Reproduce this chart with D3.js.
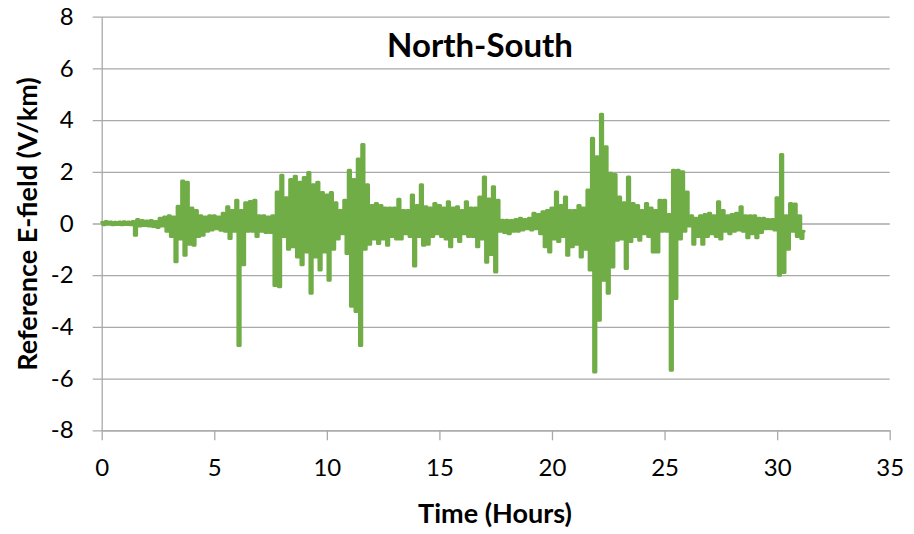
<!DOCTYPE html>
<html>
<head>
<meta charset="utf-8">
<script src="https://cdn.jsdelivr.net/npm/d3@7"></script>
<style>
  body { margin: 0; background: #fff; }
  svg { display: block; }
  text { font-family: Lato, "Open Sans", sans-serif; fill: #000; }
</style>
</head>
<body>
<svg id="chart" width="914" height="534"></svg>
<script>
// North-South reference E-field, sampled every 0.1 h (one row per hour)
const sampleStepHours = 0.1;
const efieldNS = [
  0.05,-0.05,0.08,-0.03,0.06,-0.05,0.05,-0.04,0.06,-0.05,
  0.07,-0.04,0.06,-0.05,0.08,-0.45,0.15,-0.1,0.12,-0.08,
  0.1,-0.1,0.12,-0.12,0.08,-0.15,0.2,-0.1,0.25,-0.3,
  0.3,-0.5,0.25,-1.48,0.67,-0.6,1.64,-1.23,1.6,-0.8,
  0.6,-0.84,0.5,-0.5,0.3,-0.45,0.25,-0.3,0.3,-0.25,
  0.3,-0.2,0.25,-0.26,0.4,-0.3,0.65,-0.58,0.5,-0.3,
  0.9,-4.72,0.5,-1.6,0.8,-0.3,0.85,-0.3,0.9,-0.5,
  0.3,-0.3,0.3,-0.35,0.25,-0.35,0.3,-2.4,1.22,-2.45,
  1.87,-0.5,1.0,-1.0,1.7,-0.9,1.83,-1.3,1.6,-1.6,
  1.78,-1.1,1.97,-2.7,1.5,-1.3,1.6,-1.8,1.2,-1.1,
  1.1,-2.2,1.2,-1.0,0.8,-0.6,0.5,-0.4,0.9,-1.16,
  2.06,-3.2,1.7,-3.4,2.5,-4.72,3.06,-1.0,1.5,-0.8,
  0.7,-0.6,0.77,-0.77,0.7,-0.6,0.6,-0.84,0.6,-0.5,
  0.6,-0.6,0.94,-0.6,0.5,-0.4,0.5,-0.5,1.1,-1.64,
  0.7,-0.5,1.5,-0.84,0.65,-0.8,0.6,-0.5,0.77,-0.4,
  0.7,-0.5,0.6,-0.6,0.84,-0.9,0.6,-0.5,0.65,-0.7,
  0.5,-0.4,0.84,-0.5,0.6,-0.5,0.6,-0.9,1.03,-0.6,
  1.8,-1.5,0.95,-1.2,1.42,-1.88,0.9,-0.3,0.13,-0.35,
  0.13,-0.4,0.12,-0.3,0.15,-0.3,0.2,-0.25,0.15,-0.2,
  0.2,-0.25,0.4,-0.2,0.35,-0.4,0.45,-0.9,0.5,-1.1,
  0.6,-0.6,1.22,-0.7,0.7,-0.5,1.03,-1.23,0.5,-0.9,
  0.5,-0.8,0.7,-1.3,0.6,-1.0,1.3,-1.8,3.3,-5.74,
  2.58,-3.74,4.23,-2.2,2.97,-2.7,1.94,-1.68,1.9,-0.65,
  1.03,-0.6,0.8,-1.74,1.8,-0.7,0.77,-0.5,0.7,-0.65,
  0.5,-0.4,0.77,-0.5,0.6,-1.1,0.5,-1.1,0.9,-0.3,
  0.9,-0.3,0.35,-5.68,2.06,-2.9,2.06,-0.6,2.0,-0.3,
  1.22,-0.1,0.3,-0.8,0.2,-0.5,0.3,-0.8,0.35,-0.5,
  0.4,-0.4,0.3,-0.5,0.84,-0.6,0.5,-0.3,0.3,-0.4,
  0.35,-0.3,0.4,-0.25,0.65,-0.3,0.3,-0.55,0.3,-0.4,
  0.3,-0.55,0.2,-0.35,0.2,-0.2,0.15,-0.2,0.15,-0.25,
  1.0,-2.0,2.67,-1.9,0.3,-1.0,0.77,-0.3,0.75,-0.5,
  0.3,-0.58,-0.3
];

const xTicks = [0, 5, 10, 15, 20, 25, 30, 35];
const yTicks = [-8, -6, -4, -2, 0, 2, 4, 6, 8];
const chartTitle = "North-South";
const xTitle = "Time (Hours)";
const yTitle = "Reference E-field (V/km)";

const W = 914, H = 534;
const plot = { left: 101.7, right: 889.7, top: 16.7, bottom: 430.3 };
const gridColor = "#a9a9a9";
const lineColor = "#70ad47";
const tickFont = "24px";

const svg = d3.select("#chart");

const x = d3.scaleLinear().domain([0, 35]).range([plot.left, plot.right]);
const y = d3.scaleLinear().domain([-8, 8]).range([plot.bottom, plot.top]);

// plain hyphen-minus for negative tick labels
const fmt = d => String(d);

// horizontal gridlines + y tick labels
svg.append("g")
  .attr("transform", `translate(${plot.left},0)`)
  .call(d3.axisLeft(y)
    .tickValues(yTicks)
    .tickFormat(fmt)
    .tickSizeInner(-(plot.right - plot.left))
    .tickSizeOuter(0)
    .tickPadding(28))
  .call(g => g.select(".domain").attr("stroke", gridColor).attr("stroke-width", 1.3))
  .call(g => g.selectAll(".tick line").attr("x1", -9).attr("stroke", gridColor).attr("stroke-width", 1.3))
  .call(g => g.selectAll(".tick text")
    .style("font-size", tickFont).style("font-family", "Lato, 'Open Sans', sans-serif").attr("fill", "#000"));

// x axis
svg.append("g")
  .attr("transform", `translate(0,${plot.bottom})`)
  .call(d3.axisBottom(x)
    .tickValues(xTicks)
    .tickFormat(fmt)
    .tickSizeInner(10)
    .tickSizeOuter(0)
    .tickPadding(19))
  .call(g => g.select(".domain").attr("stroke", gridColor).attr("stroke-width", 1.3))
  .call(g => g.selectAll(".tick line").attr("stroke", gridColor).attr("stroke-width", 1.3))
  .call(g => g.selectAll(".tick text")
    .style("font-size", tickFont).style("font-family", "Lato, 'Open Sans', sans-serif").attr("fill", "#000"));

// E-field trace: step rendering keeps the dense record reading as a solid band
const line = d3.line()
  .curve(d3.curveStep)
  .x((d, i) => x(i * sampleStepHours))
  .y(d => y(d));

svg.append("path")
  .datum(efieldNS)
  .attr("d", line)
  .attr("fill", "none")
  .attr("stroke", lineColor)
  .attr("stroke-width", 3)
  .attr("stroke-linejoin", "round")
  .attr("stroke-linecap", "round");

// titles
svg.append("text")
  .attr("x", 480).attr("y", 57)
  .attr("text-anchor", "middle")
  .style("font-size", "33px").style("font-weight", "bold")
  .text(chartTitle);

svg.append("text")
  .attr("x", 495).attr("y", 523)
  .attr("text-anchor", "middle")
  .style("font-size", "27px").style("font-weight", "bold")
  .text(xTitle);

svg.append("text")
  .attr("transform", `translate(37,224) rotate(-90)`)
  .attr("text-anchor", "middle")
  .style("font-size", "27px").style("font-weight", "bold")
  .text(yTitle);
</script>
</body>
</html>
